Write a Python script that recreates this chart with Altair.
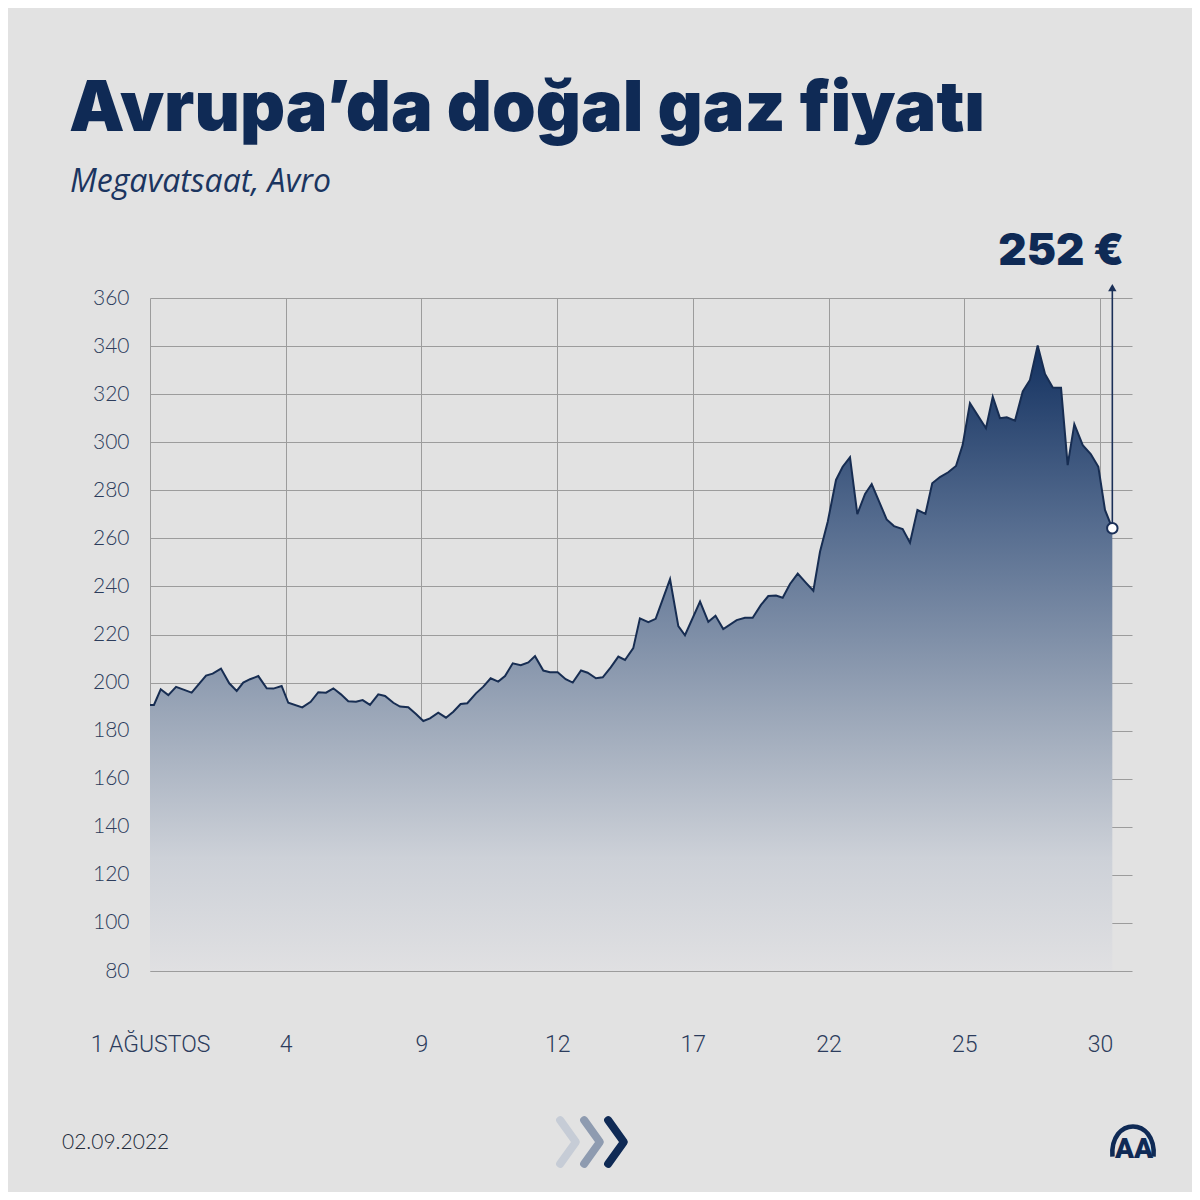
import altair as alt
import pandas as pd

# ---- data ----
# position along the date axis (0 = 1 Ağustos gridline, 1 = next labelled gridline, ...)
T = [0, 0.029, 0.079, 0.135, 0.192, 0.307, 0.413, 0.462, 0.523, 0.584, 0.639, 0.687, 0.737,
     0.798, 0.860, 0.909, 0.970, 1.019, 1.122, 1.184, 1.240, 1.297, 1.351, 1.407, 1.461,
     1.518, 1.567, 1.621, 1.682, 1.732, 1.793, 1.842, 1.903, 1.960, 2.014, 2.063, 2.124,
     2.181, 2.235, 2.289, 2.338, 2.402, 2.456, 2.510, 2.566, 2.616, 2.673, 2.732, 2.788,
     2.837, 2.898, 2.947, 3.004, 3.063, 3.115, 3.176, 3.225, 3.286, 3.336, 3.395, 3.451,
     3.500, 3.561, 3.610, 3.672, 3.726, 3.832, 3.893, 3.942, 4.053, 4.114, 4.167, 4.224,
     4.323, 4.384, 4.441, 4.502, 4.556, 4.613, 4.662, 4.716, 4.773, 4.834, 4.888, 4.937,
     4.994, 5.055, 5.104, 5.158, 5.212, 5.269, 5.318, 5.428, 5.482, 5.546, 5.600, 5.655,
     5.714, 5.764, 5.821, 5.882, 5.939, 5.988, 6.042, 6.160, 6.210, 6.263, 6.313, 6.374,
     6.431, 6.484, 6.541, 6.595, 6.652, 6.713, 6.762, 6.811, 6.873, 6.932, 6.988, 7.037,
     7.091]
PRICE = [190.7, 190.7, 197.2, 194.8, 198.2, 195.8, 202.9, 203.7, 205.8, 199.7, 196.5, 200.0,
         201.4, 202.7, 197.6, 197.5, 198.6, 191.6, 189.7, 192.0, 196.0, 195.8, 197.6, 195.1,
         192.2, 192.0, 192.7, 190.7, 195.1, 194.4, 191.6, 190.0, 189.7, 186.9, 184.0, 185.1,
         187.5, 185.4, 187.9, 191.1, 191.4, 195.5, 198.3, 201.8, 200.4, 202.7, 208.0, 207.2,
         208.4, 211.0, 205.0, 204.3, 204.3, 201.4, 200.0, 205.0, 204.1, 201.8, 202.2, 206.3,
         210.8, 209.4, 214.3, 226.7, 225.1, 226.5, 243.0, 223.5, 219.7, 233.7, 225.3, 227.8,
         222.3, 226.0, 227.0, 227.0, 232.3, 236.0, 236.2, 235.3, 241.0, 245.3, 241.5, 238.2,
         254.4, 266.9, 284.3, 289.8, 293.7, 270.1, 278.5, 282.6, 267.9, 265.1, 263.9, 258.2,
         271.8, 270.2, 282.9, 285.5, 287.5, 290.1, 298.8, 316.2, 305.8, 318.9, 310.0, 310.4,
         309.0, 321.1, 325.9, 340.2, 328.4, 322.8, 322.7, 290.5, 307.5, 298.8, 295.1, 289.8,
         271.8, 264.2]

X_TICKS = [0, 1, 2, 3, 4, 5, 6, 7]
X_LABELS = ["1 AĞUSTOS", "4", "9", "12", "17", "22", "25", "30"]
Y_TICKS = [80, 100, 120, 140, 160, 180, 200, 220, 240, 260, 280, 300, 320, 340, 360]

TITLE = "Avrupa’da doğal gaz fiyatı"
SUBTITLE = "Megavatsaat, Avro"
CALLOUT = "252 €"
DATE = "02.09.2022"

NAVY = "#0f2a55"
LABEL_COL = "#2c3c5c"
BG = "#e2e2e2"

df = pd.DataFrame({"t": T, "v": PRICE})
last = pd.DataFrame({"t": [T[-1]], "v": [PRICE[-1]]})

label_expr = "[" + ",".join("'" + s + "'" for s in X_LABELS) + "][datum.value]"

x_scale = alt.Scale(domain=[0, 7.236], nice=False, zero=False)
y_scale = alt.Scale(domain=[80, 360], nice=False, zero=False)

x_enc = alt.X("t:Q", scale=x_scale, title=None,
              axis=alt.Axis(values=X_TICKS, labelExpr=label_expr, grid=True,
                            gridColor="#9c9c9c", gridWidth=1, domain=False, ticks=False,
                            labelFlush=False, labelOverlap=False,
                            labelPadding=62, labelFontSize=23, labelFont="Roboto",
                            labelFontWeight=300, labelColor=LABEL_COL))
y_enc = alt.Y("v:Q", scale=y_scale, title=None,
              axis=alt.Axis(values=Y_TICKS, grid=True, gridColor="#9c9c9c", gridWidth=1,
                            domain=False, ticks=False, labelPadding=21, labelFontSize=21,
                            labelFlush=False, labelOverlap=False,
                            labelFont="Lato", labelFontWeight=300, labelColor=LABEL_COL))

grad = alt.Gradient(
    gradient="linear", x1=1, x2=1, y1=1, y2=0,
    stops=[alt.GradientStop(color="#e0e0e2", offset=0),
           alt.GradientStop(color="#cdd1d8", offset=0.18),
           alt.GradientStop(color="#99a5b7", offset=0.42),
           alt.GradientStop(color="#546b8e", offset=0.72),
           alt.GradientStop(color="#133160", offset=1)])

area = alt.Chart(df).mark_area(color=grad, interpolate="linear").encode(
    x=x_enc, y=y_enc, y2=alt.Y2(datum=80))
line = alt.Chart(df).mark_line(color="#172d52", strokeWidth=2).encode(
    x=alt.X("t:Q", scale=x_scale), y=alt.Y("v:Q", scale=y_scale))

arrow = alt.Chart(last).mark_rule(color="#1b3058", strokeWidth=1.6).encode(
    x=alt.X("t:Q", scale=x_scale), y=alt.Y("v:Q", scale=y_scale), y2=alt.Y2(datum=365))
head = alt.Chart(last).mark_point(shape="triangle-up", filled=True, size=70, color="#1b3058",
                                  opacity=1).encode(
    x=alt.X("t:Q", scale=x_scale), y=alt.datum(364.3))
dot = alt.Chart(last).mark_point(shape="circle", filled=True, fill="white", stroke="#1b3058",
                                 strokeWidth=2, size=110, opacity=1, fillOpacity=1).encode(
    x=alt.X("t:Q", scale=x_scale), y=alt.Y("v:Q", scale=y_scale))


def txt(s, x, y, **kw):
    return alt.Chart(pd.DataFrame({"s": [s]})).mark_text(**kw).encode(
        text="s:N", x=alt.value(x), y=alt.value(y))


title = txt(TITLE, -81, -167, align="left", baseline="alphabetic", font="Inter",
            fontWeight=900, fontSize=70, color=NAVY)
subtitle = txt(SUBTITLE, -80, -106, align="left", baseline="alphabetic", font="Open Sans",
               fontStyle="italic", fontWeight=400, fontSize=32, color="#1b3560")
callout = txt(CALLOUT, 974, -46, align="right", baseline="middle", font="Inter",
              fontWeight=900, fontSize=44, color=NAVY)
date = txt(DATE, -88, 845, align="left", baseline="middle", font="Lato", fontWeight=300,
           fontSize=21, color="#222b3a")
aa = txt("AA", 984, 852, align="center", baseline="middle", font="Roboto", fontWeight=900,
         fontSize=28, color=NAVY)

CHEV_COLORS = ["#c6ccd6", "#8e9bb0", NAVY]
chev_layers = []
for i, c in enumerate(CHEV_COLORS):
    chev_layers.append(
        alt.Chart(pd.DataFrame({"s": [i]})).mark_point(
            shape="M-0.36,-1L0.36,0L-0.36,1", filled=False, size=1900, stroke=c,
            strokeWidth=8, opacity=1, strokeCap="round", strokeJoin="round").encode(
            x=alt.value(418 + 24 * i), y=alt.value(844)))
arc = alt.Chart(pd.DataFrame({"s": [0]})).mark_point(
    shape="M-0.92,0.7C-1.05,-1.1 1.05,-1.1 0.92,0.7", filled=False, size=2000, stroke=NAVY,
    strokeWidth=4.5, opacity=1).encode(x=alt.value(983), y=alt.value(843))

chart = alt.layer(area, line, arrow, head, dot, title, subtitle, callout, date, aa, arc,
                  *chev_layers).properties(
    width=982, height=673, background=BG, autosize="none",
    padding={"left": 142, "top": 290, "right": 60, "bottom": 221},
).configure_view(stroke=None)

chart.save("out.html", embed_options={"renderer": "svg", "actions": False})
